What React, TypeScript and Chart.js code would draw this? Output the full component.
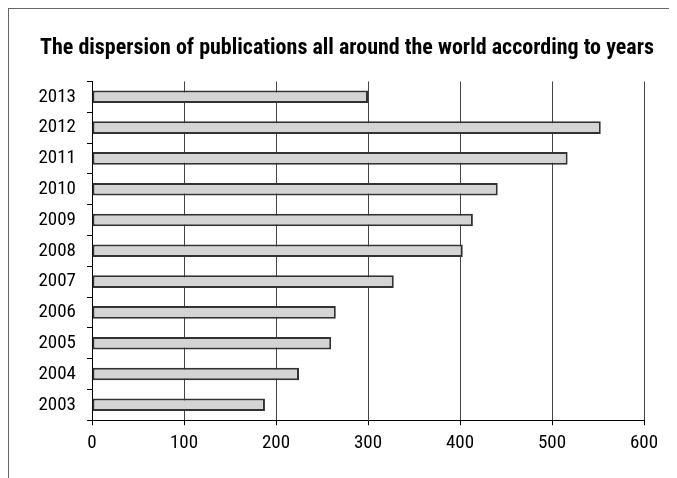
import React, { useEffect, useRef } from "react";
import { Chart, registerables } from "chart.js";

Chart.register(...registerables);

const chartTitle = "The dispersion of publications all around the world according to years";
const years = ["2013", "2012", "2011", "2010", "2009", "2008", "2007", "2006", "2005", "2004", "2003"];
const publications = [300, 553, 517, 441, 414, 403, 328, 265, 260, 225, 188];
const xMin = 0;
const xMax = 600;
const xStep = 100;

const FONT = "Roboto, 'Liberation Sans', sans-serif";

export default function App() {
  const canvasRef = useRef<HTMLCanvasElement | null>(null);

  useEffect(() => {
    const canvas = canvasRef.current;
    if (!canvas) return;
    const chart = new Chart(canvas, {
      type: "bar",
      data: {
        labels: years,
        datasets: [
          {
            data: publications,
            backgroundColor: "#d4d4d4",
            borderColor: "#333333",
            borderWidth: 2,
            borderSkipped: false,
            barPercentage: 0.41,
            categoryPercentage: 1,
          },
        ],
      },
      options: {
        indexAxis: "y",
        animation: false,
        responsive: false,
        maintainAspectRatio: false,
        devicePixelRatio: 1,
        layout: { padding: { left: 0, right: 0, top: 0, bottom: 16 } },
        plugins: {
          legend: { display: false },
          tooltip: { enabled: false },
          title: {
            display: true,
            text: chartTitle,
            color: "#000",
            font: { family: FONT, size: 22, weight: "condensed bold" as any, lineHeight: 1.2 },
            padding: { top: 26, bottom: 20 },
          },
        },
        scales: {
          x: {
            type: "linear",
            min: xMin,
            max: xMax,
            ticks: {
              stepSize: xStep,
              color: "#000",
              font: { family: FONT, size: 19, weight: "condensed" as any, lineHeight: 1.2 },
              padding: 7,
            },
            grid: {
              color: "#444",
              lineWidth: 1,
              drawTicks: true,
              tickLength: 5,
              tickColor: "#000",
            },
            border: { color: "#000", width: 1 },
          },
          y: {
            type: "category",
            ticks: {
              color: "#000",
              font: { family: FONT, size: 19, weight: "condensed" as any, lineHeight: 1.2 },
              padding: 11,
            },
            grid: {
              offset: true,
              drawOnChartArea: false,
              drawTicks: true,
              tickLength: 5,
              tickColor: "#000",
            },
            border: { color: "#000", width: 1 },
            afterFit: (scale: any) => {
              scale.width = 83;
            },
          },
          spacer: {
            type: "linear",
            position: "right",
            axis: "y",
            display: true,
            grid: { display: false, drawTicks: false },
            ticks: { display: false },
            border: { display: false },
            afterFit: (scale: any) => {
              scale.width = 41;
            },
          },
        },
      },
    });
    return () => chart.destroy();
  }, []);

  return (
    <div
      style={{
        width: 668,
        height: 469,
        borderTop: "1px solid #666",
        borderLeft: "1px solid #666",
        overflow: "hidden",
        position: "relative",
        background: "#fff",
      }}
    >
      <canvas
        ref={canvasRef}
        width={676}
        height={469}
        style={{ display: "block", width: 676, height: 469 }}
      />
    </div>
  );
}
